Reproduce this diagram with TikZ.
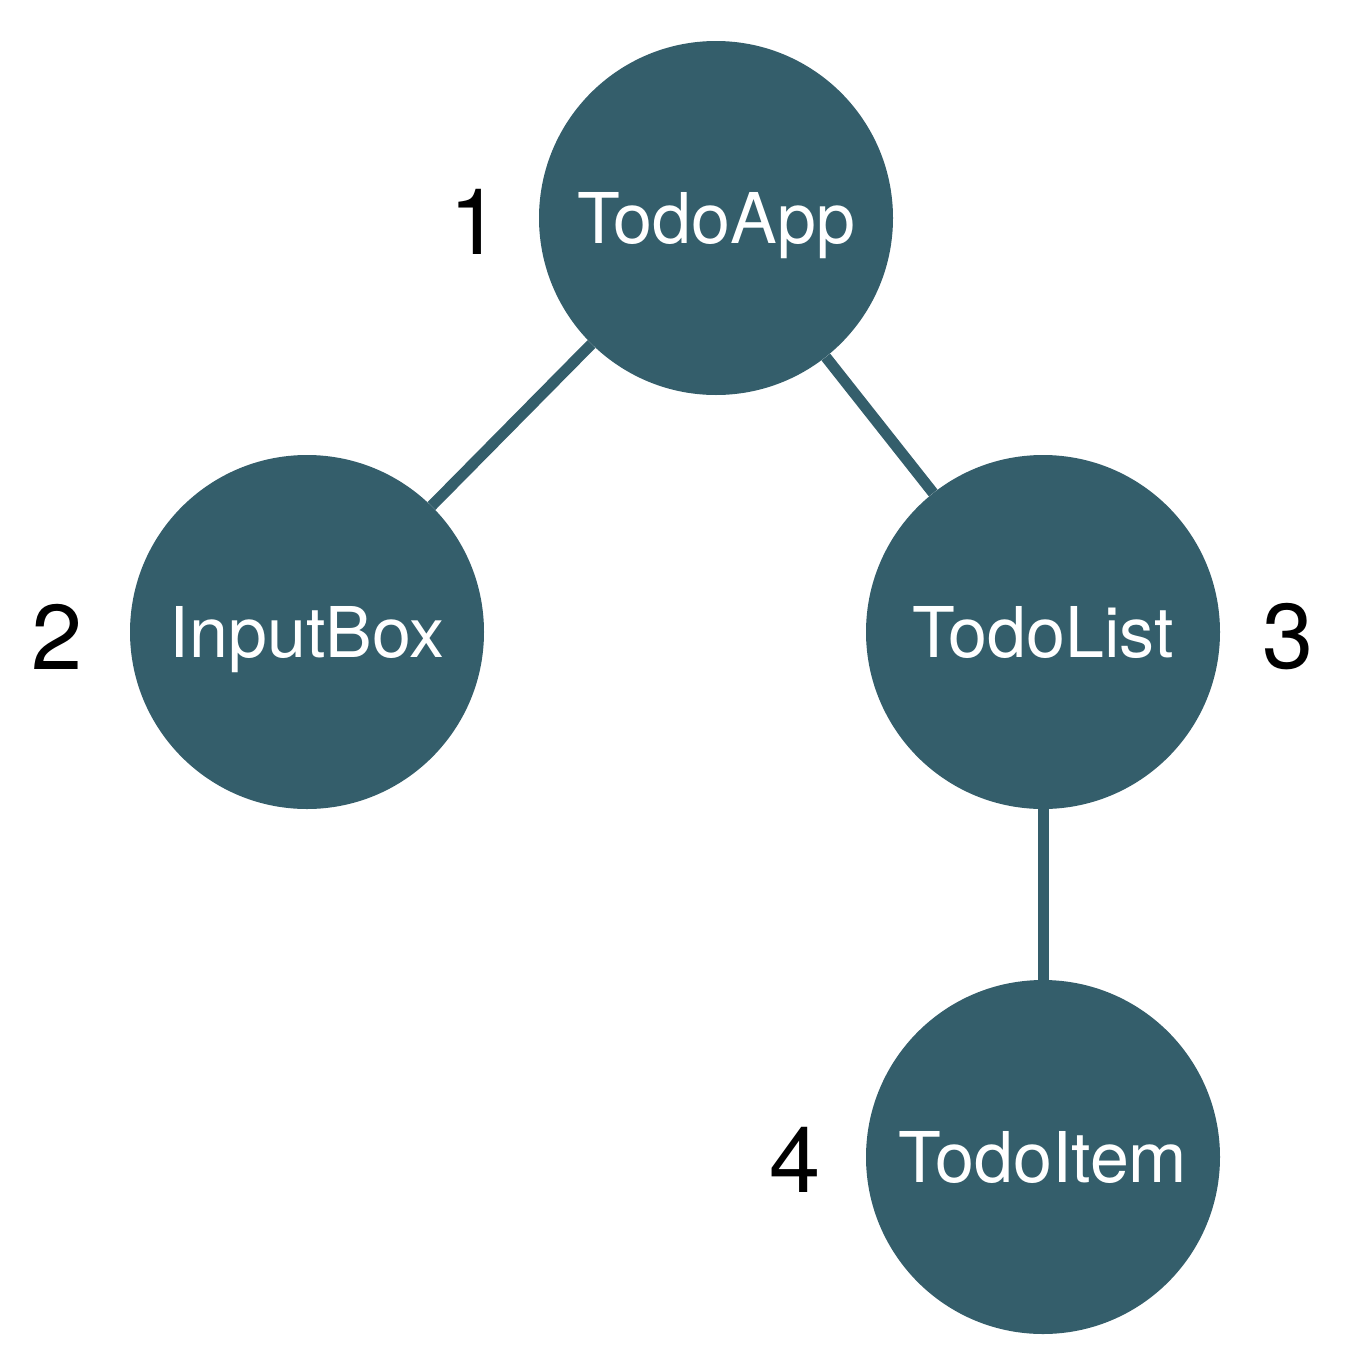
\documentclass[tikz,border=0pt]{standalone}
\usepackage{fontspec}
\setmainfont{TeX Gyre Heros}
\definecolor{nodeteal}{HTML}{345E6B}
\tikzset{
  comp/.style={circle, fill=nodeteal, minimum size=354pt, inner sep=0pt, text=white,
    text height=50pt, text depth=-8pt, font=\fontsize{70}{70}\selectfont},
  num/.style={text=black, inner sep=0pt, font=\fontsize{92}{92}\selectfont},
  link/.style={draw=nodeteal, line width=11pt}
}
\begin{document}
\begin{tikzpicture}[x=1pt,y=-1pt]
\useasboundingbox (0,0) rectangle (1351,1360);
\node[comp] (app) at (716,218) {TodoApp};
\node[comp] (input) at (307,632) {InputBox};
\node[comp] (list) at (1043,632) {TodoList};
\node[comp] (item) at (1043,1157) {TodoItem};
\draw[link] (app) -- (input);
\draw[link] (app) -- (list);
\draw[link] (list) -- (item);
\node[num] (n1) at (475,222) {1};
\node[num] (n2) at (57,637) {2};
\node[num] (n3) at (1288,637) {3};
\node[num] (n4) at (795,1160) {4};
\end{tikzpicture}
\end{document}
